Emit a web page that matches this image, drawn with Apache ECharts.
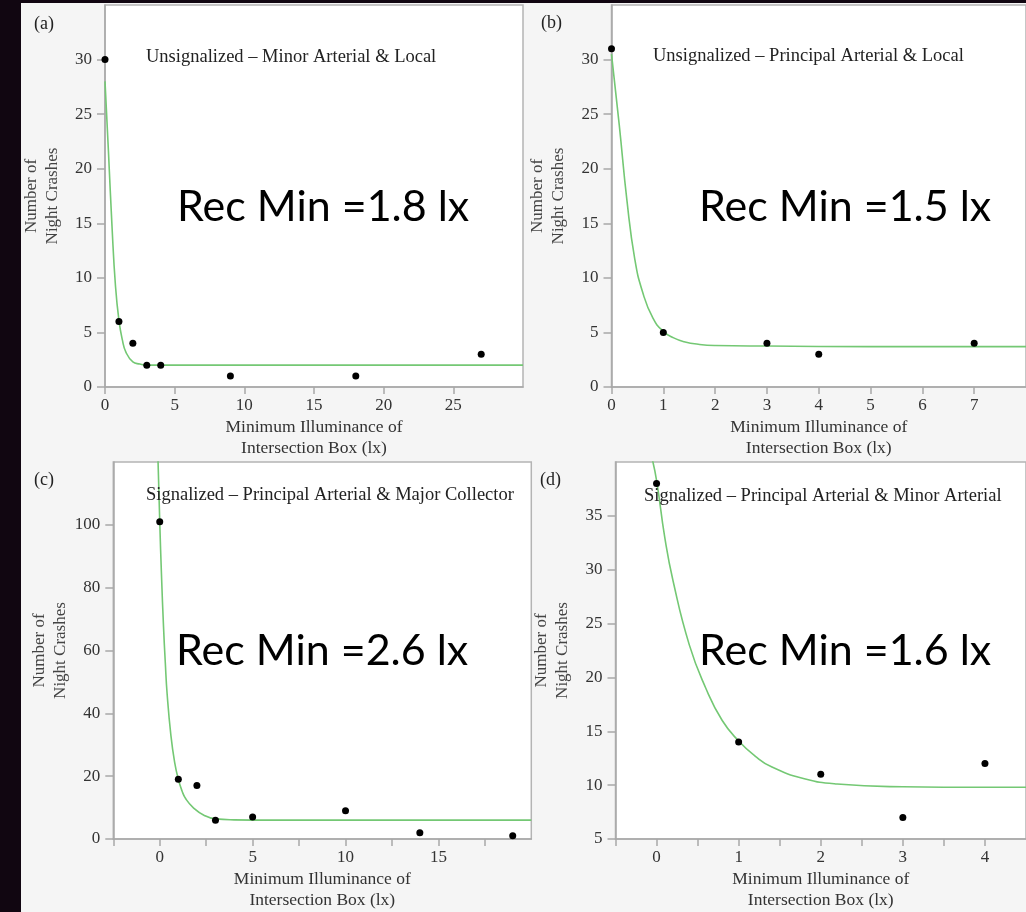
<!DOCTYPE html>
<html lang="en">
<head>
<meta charset="UTF-8">
<title>night crashes vs minimum illuminance</title>
<style>
  html, body { margin: 0; padding: 0; background: #110611; }
  #main { width: 1026px; height: 912px; }
</style>
<script src="https://cdn.jsdelivr.net/npm/echarts@6/dist/echarts.min.js"></script>
</head>
<body>
<div id="main"></div>
<script>
// ---- data ----
// (a) Unsignalized - Minor Arterial & Local
var aDotX = [0, 1, 2, 3, 4, 9, 18, 27];
var aDotY = [30, 6, 4, 2, 2, 1, 1, 3];
var aFitX = [0, 0.25, 0.5, 0.75, 1, 1.25, 1.5, 2, 2.5, 3, 4, 6, 10, 20, 30];
var aFitY = [28, 21.5, 14.8, 9.3, 6.1, 4.3, 3.2, 2.3, 2.1, 2.0, 2.0, 2.0, 2.0, 2.0, 2.0];

// (b) Unsignalized - Principal Arterial & Local
var bDotX = [0, 1, 3, 4, 7];
var bDotY = [31, 5, 4, 3, 4];
var bFitX = [0, 0.15, 0.3, 0.45, 0.6, 0.8, 1, 1.2, 1.4, 1.7, 2, 3, 5, 8];
var bFitY = [30.5, 24, 17, 11.7, 8.7, 6.3, 5.1, 4.5, 4.15, 3.9, 3.8, 3.75, 3.7, 3.7];

// (c) Signalized - Principal Arterial & Major Collector
var cDotX = [0, 1, 2, 3, 5, 10, 14, 19];
var cDotY = [101, 19, 17, 6, 7, 9, 2, 1];
var cFitX = [-0.1, 0, 0.1, 0.2, 0.3, 0.4, 0.6, 0.8, 1, 1.2, 1.4, 1.8, 2.4, 3, 4, 6, 10, 20];
var cFitY = [122, 101, 83, 68, 56, 46, 33, 24.5, 19, 15.3, 12.8, 10, 7.5, 6.4, 6.1, 6.0, 6.0, 6.0];

// (d) Signalized - Principal Arterial & Minor Arterial
var dDotX = [0, 1, 2, 3, 4];
var dDotY = [38, 14, 11, 7, 12];
var dFitX = [-0.06, 0, 0.1, 0.2, 0.4, 0.6, 0.8, 1, 1.2, 1.4, 1.8, 2.2, 3, 4, 4.5];
var dFitY = [40.5, 38.3, 33, 29, 23, 19, 16, 14.1, 12.7, 11.7, 10.6, 10.1, 9.85, 9.8, 9.8];

var titles = [
  'Unsignalized \u2013 Minor Arterial & Local',
  'Unsignalized \u2013 Principal Arterial & Local',
  'Signalized \u2013 Principal Arterial & Major Collector',
  'Signalized \u2013 Principal Arterial & Minor Arterial'
];
var tags = ['(a)', '(b)', '(c)', '(d)'];
var recMin = ['Rec Min =1.8 lx', 'Rec Min =1.5 lx', 'Rec Min =2.6 lx', 'Rec Min =1.6 lx'];

// axis ranges [min, max, interval]
var xRanges = [[0, 30, 5], [0, 8, 1], [-2.5, 20, 2.5], [-0.5, 4.5, 0.5]];
var yRanges = [[0, 35, 5], [0, 35, 5], [0, 120, 20], [5, 40, 5]];
var xLabelStep = [5, 1, 5, 1];

// ---- layout ----
var grids = [
  { left: 105, top: 5, width: 418, height: 382 },
  { left: 611.5, top: 5, width: 417.6, height: 382 },
  { left: 113.3, top: 462, width: 418, height: 381.5 },
  { left: 615.5, top: 462, width: 418, height: 381.5 }
];
var titlePos = [[146, 57], [653, 56], [146, 495], [644, 496]];
var tagPos = [[34, 24], [541, 23], [34, 480], [540, 480]];
var recPos = [[177, 207], [699, 207], [176, 651], [699, 651]];

var serif = '"Liberation Serif", "DejaVu Serif", serif';

function pairs(xs, ys) {
  return xs.map(function (x, i) { return [x, ys[i]]; });
}

var dots = [pairs(aDotX, aDotY), pairs(bDotX, bDotY), pairs(cDotX, cDotY), pairs(dDotX, dDotY)];
var fits = [pairs(aFitX, aFitY), pairs(bFitX, bFitY), pairs(cFitX, cFitY), pairs(dFitX, dFitY)];

var xAxes = [], yAxes = [], series = [], graphics = [];

// light grey figure panel behind the four plots
graphics.push({
  type: 'rect', z: -10,
  shape: { x: 21, y: 3, width: 1005, height: 909 },
  style: { fill: '#f5f5f5' }
});

for (var i = 0; i < 4; i++) {
  (function (i) {
    var step = xLabelStep[i];
    xAxes.push({
      type: 'value', gridIndex: i,
      min: xRanges[i][0], max: xRanges[i][1], interval: xRanges[i][2],
      name: 'Minimum Illuminance of\nIntersection Box (lx)',
      nameLocation: 'middle', nameGap: 30,
      nameTextStyle: { fontFamily: serif, fontSize: 17.5, color: '#333', lineHeight: 21 },
      axisLine: { show: true, onZero: false, lineStyle: { color: '#a8a8a8', width: 1.5 } },
      axisTick: { show: true, inside: false, length: 7, lineStyle: { color: '#a8a8a8', width: 1.5 } },
      axisLabel: {
        fontFamily: serif, fontSize: 17, color: '#333', margin: 10,
        showMaxLabel: false,
        formatter: function (v) {
          var r = Math.round(v * 1000) / 1000;
          return (Math.abs(r % step) < 1e-6) ? String(r) : '';
        }
      },
      splitLine: { show: false }
    });
    yAxes.push({
      type: 'value', gridIndex: i,
      min: yRanges[i][0], max: yRanges[i][1], interval: yRanges[i][2],
      name: 'Number of\nNight Crashes',
      nameLocation: 'middle', nameGap: 42,
      nameTextStyle: { fontFamily: serif, fontSize: 17, color: '#444', lineHeight: 21 },
      axisLine: { show: true, onZero: false, lineStyle: { color: '#a8a8a8', width: 1.5 } },
      axisTick: { show: true, inside: false, length: 8, lineStyle: { color: '#a8a8a8', width: 1.5 } },
      axisLabel: { fontFamily: serif, fontSize: 17, color: '#333', margin: 13, showMaxLabel: false },
      splitLine: { show: false }
    });
    series.push({
      type: 'line', xAxisIndex: i, yAxisIndex: i,
      data: fits[i], showSymbol: false, smooth: 0.5,
      clip: true, z: 2,
      lineStyle: { color: '#74c874', width: 1.6 }
    });
    series.push({
      type: 'scatter', xAxisIndex: i, yAxisIndex: i,
      data: dots[i], symbolSize: 7, clip: false, z: 3,
      itemStyle: { color: '#000', opacity: 1 }
    });
    graphics.push({
      type: 'text', x: titlePos[i][0], y: titlePos[i][1], z: 50,
      style: { text: titles[i], font: '18.5px ' + serif, fill: '#222', textVerticalAlign: 'middle' }
    });
    graphics.push({
      type: 'text', x: tagPos[i][0], y: tagPos[i][1], z: 50,
      style: { text: tags[i], font: '18px ' + serif, fill: '#222', textVerticalAlign: 'middle' }
    });
    graphics.push({
      type: 'text', x: recPos[i][0], y: recPos[i][1], z: 50,
      style: { text: recMin[i], font: '43px Lato', fill: '#000', textVerticalAlign: 'middle' }
    });
  })(i);
}

var chart = echarts.init(document.getElementById('main'));
chart.setOption({
  backgroundColor: '#110611',
  animation: false,
  grid: grids.map(function (g) {
    return {
      left: g.left, top: g.top, width: g.width, height: g.height,
      show: true, backgroundColor: '#ffffff', borderColor: '#b4b4b4', borderWidth: 1.5,
      containLabel: false
    };
  }),
  xAxis: xAxes,
  yAxis: yAxes,
  series: series,
  graphic: graphics
});
</script>
</body>
</html>
